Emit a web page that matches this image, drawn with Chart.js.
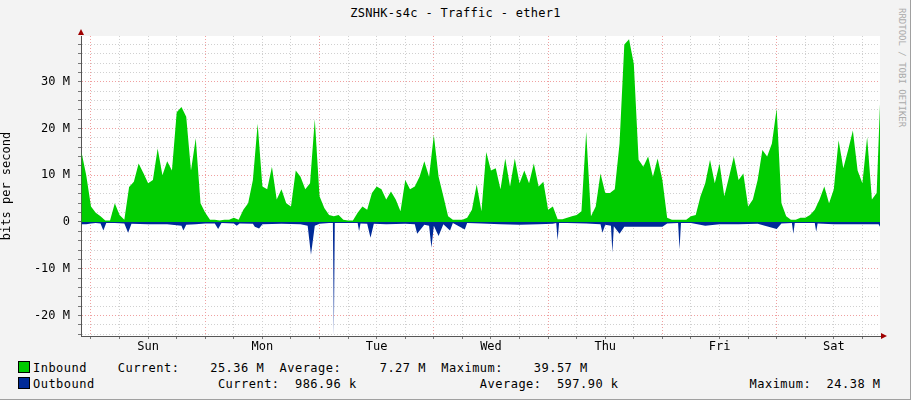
<!DOCTYPE html>
<html>
<head>
<meta charset="utf-8">
<script src="https://cdn.jsdelivr.net/npm/chart.js@4/dist/chart.umd.min.js"></script>
<style>
  body { margin: 0; background: #f3f3f3; }
  #wrap { position: relative; width: 911px; height: 400px; background: #f3f3f3;
          box-sizing: border-box; border-right: 1px solid #a0a0a0; border-bottom: 1px solid #a0a0a0;
          font-family: "DejaVu Sans Mono", monospace; font-size: 12px; color: #000; }
  #title { position: absolute; top: 6px; left: 0; width: 911px; text-align: center; letter-spacing: 0.3px; }
  #credit { position: absolute; left: 895px; top: 8px; transform-origin: 0 0; transform: rotate(90deg) translate(0, -12px);
            font-size: 9px; color: #aaa; white-space: nowrap; }
  .row { position: absolute; left: 18px; white-space: pre; letter-spacing: 0.48px; }
  .box { display: inline-block; width: 10px; height: 10px; border: 1px solid #000; vertical-align: -1px; margin-right: 3px; }
</style>
</head>
<body>
<div id="wrap">
  <div id="title">ZSNHK-s4c - Traffic - ether1</div>
  <div id="credit">RRDTOOL / TOBI OETIKER</div>
  <div style="position:absolute;left:0;top:0;width:911px;height:356px;"><canvas id="c" width="911" height="356"></canvas></div>
  <div class="row" style="top:361px"><span class="box" style="background:#00cc00"></span>Inbound    Current:    25.36 M  Average:     7.27 M  Maximum:    39.57 M</div>
  <div class="row" style="top:377px"><span class="box" style="background:#002a97"></span>Outbound                Current:  986.96 k                Average:  597.90 k                 Maximum:  24.38 M</div>
</div>
<script>
"use strict";

// hours since Sunday 00:00
const DAYS = ["Sun", "Mon", "Tue", "Wed", "Thu", "Fri", "Sat"];

const IN_START = -2;   // first hourly sample
const IN_VALUES = [
    15, 10, 3.3, 2, 1.2, 0.3, 0.3, 4, 1.5, 0.5,
    7.5, 8.6, 12.5, 10.5, 8.3, 9, 15.7, 10, 13, 11,
    23.5, 24.6, 22.5, 11, 17.9, 4, 2, 0.5, 0.5, 0.3,
    0.5, 0.5, 0.9, 0.5, 2.6, 4, 9, 21, 7.6, 7,
    11.8, 4.8, 7, 4, 3.3, 11, 9.7, 7, 8.3, 22,
    5.5, 3, 1.5, 1.2, 1.5, 0.5, 0.3, 0.3, 2, 3.3,
    2.6, 6.2, 7.6, 7, 4.8, 6.5, 4.8, 2.3, 9, 7,
    7.6, 9.7, 13, 9.7, 18.6, 9.7, 5.5, 1.2, 0.5, 0.5,
    0.5, 0.9, 2.6, 8, 2.3, 15, 11, 11.5, 7, 13.6,
    7.6, 13.6, 8.3, 11, 8.3, 12.5, 7.6, 8.6, 2.6, 3.3,
    0.6, 0.6, 0.9, 1.2, 1.5, 2.3, 19.3, 1.2, 3.3, 10.4,
    6.2, 6.2, 7, 16.8, 38, 39.1, 33.8, 13.3, 11.8, 14,
    9.7, 13.6, 9, 0.9, 0.5, 0.5, 0.5, 0.5, 1.2, 1.5,
    5.5, 8.3, 13.3, 8.3, 12.5, 5.5, 9.7, 14, 9, 10.4,
    3.3, 4.8, 9, 15.4, 14, 16.8, 24.3, 4, 1.2, 0.5,
    0.5, 0.9, 0.9, 1.5, 2.6, 4.8, 7.6, 4, 7, 17.5,
    11.5, 15.4, 19.6, 11, 8.3, 18.2, 4.8, 6.2
];
const IN_LAST = [165.7, 25.3];

const OUT_HOURS = [
    -2, -1, 0, 1, 2, 2.6, 3.2, 5, 7, 7.8, 8.5, 12, 16, 19, 19.4, 20, 22, 24, 26, 26.7,
    27.4, 30, 30.6, 31.2, 34, 34.4, 35.3, 36, 40, 44, 45.5, 46.2, 47, 48, 50, 50.8, 51, 51.2, 52, 56,
    56.3, 56.6, 58, 58.7, 59.4, 62, 66, 68, 68.5, 70, 71, 71.5, 72, 73, 74, 75.4, 76, 78.5, 79, 82,
    86, 90, 94, 97, 97.7, 98, 98.3, 100, 104, 107, 107.4, 108, 109.2, 109.5, 109.8, 111, 112, 116, 120, 121,
    123.3, 123.6, 123.9, 126, 129, 132, 136, 140, 144, 145, 147.2, 147.5, 147.8, 150, 152, 152.3, 152.6, 156, 160, 164,
    165.4, 165.7
];
const OUT_VALUES = [
    -0.5, -0.5, -0.3, -0.2, -0.3, -1.8, -0.2, -0.2, -0.3, -2.3, -0.4, -0.5, -0.5, -0.8, -1.8, -0.6, -0.5, -0.3, -0.3, -1.5,
    -0.2, -0.3, -0.8, -0.3, -0.4, -1, -1.4, -0.5, -0.4, -0.5, -0.8, -7, -0.8, -0.4, -0.2, -0.2, -24.4, -0.2, -0.2, -0.2,
    -2, -0.3, -0.4, -3.4, -0.4, -0.5, -0.4, -0.5, -2.5, -0.6, -0.8, -5.5, -0.8, -3, -0.5, -1.8, -0.2, -1.6, -0.2, -0.3,
    -0.5, -0.6, -0.5, -0.4, -0.2, -3.9, -0.2, -0.2, -0.3, -0.5, -2.3, -0.6, -0.8, -6.6, -0.9, -2.5, -1, -1, -1, -0.3,
    -0.2, -5.9, -0.2, -0.2, -0.8, -0.5, -0.5, -0.4, -1.5, -0.3, -0.2, -2.5, -0.2, -0.2, -0.2, -2.1, -0.3, -0.5, -0.5, -0.5,
    -0.5, -1
];

let inPoints = IN_VALUES.map(function (v, i) { return { x: IN_START + i, y: v }; });
inPoints.push({ x: IN_LAST[0], y: IN_LAST[1] });
let outPoints = OUT_HOURS.map(function (h, i) { return { x: h, y: OUT_VALUES[i] }; });

// white plot area + axis arrows
let plotDecor = {
    id: "plotDecor",
    beforeDraw: function (chart) {
        let a = chart.chartArea, ctx = chart.ctx;
        ctx.save();
        ctx.fillStyle = "#fff";
        ctx.fillRect(a.left, a.top, a.right - a.left, a.bottom - a.top);
        ctx.restore();
    },
    afterDraw: function (chart) {
        let a = chart.chartArea, ctx = chart.ctx;
        ctx.save();
        ctx.fillStyle = "#a00000";
        ctx.beginPath();
        ctx.moveTo(a.left - 3, a.top - 1); ctx.lineTo(a.left + 3, a.top - 1); ctx.lineTo(a.left, a.top - 7);
        ctx.fill();
        ctx.beginPath();
        ctx.moveTo(a.right + 1, a.bottom - 3); ctx.lineTo(a.right + 1, a.bottom + 3); ctx.lineTo(a.right + 7, a.bottom);
        ctx.fill();
        ctx.restore();
    }
};

new Chart(document.getElementById("c"), {
    type: "line",
    data: {
        datasets: [
            { label: "Inbound", data: inPoints, borderWidth: 0, pointRadius: 0, tension: 0,
              backgroundColor: "#00cc00", borderColor: "#00cc00", fill: "origin" },
            { label: "Outbound", data: outPoints, borderWidth: 0, pointRadius: 0, tension: 0,
              backgroundColor: "#002a97", borderColor: "#002a97", fill: "origin" }
        ]
    },
    options: {
        responsive: false,
        animation: false,
        layout: { padding: { top: 36, right: 31, left: 0, bottom: 0 } },
        plugins: { legend: { display: false }, tooltip: { enabled: false } },
        scales: {
            x: {
                type: "linear", min: -2.1, max: 165.7,
                afterBuildTicks: function (s) {
                    let t = [];
                    for (let h = 0; h <= 162; h += 6) t.push({ value: h });
                    s.ticks = t;
                },
                afterFit: function (s) { s.height = 20; },
                ticks: {
                    autoSkip: false, maxRotation: 0, padding: 1,
                    font: { family: "DejaVu Sans Mono", size: 12 }, color: "#000",
                    callback: function (v) { return v % 24 === 12 ? DAYS[Math.floor(v / 24)] : ""; }
                },
                grid: {
                    color: function (c) { return c.tick && c.tick.value % 24 === 0 ? "#f0a0a0" : "#d0d0d0"; },
                    drawTicks: true, tickLength: 3, tickColor: "#777"
                },
                border: { color: "#555", dash: [1, 2] }
            },
            y: {
                min: -24.4, max: 39.8,
                afterBuildTicks: function (s) {
                    let t = [];
                    for (let v = -24; v <= 38; v += 2) t.push({ value: v });
                    s.ticks = t;
                },
                afterFit: function (s) { s.width = 81; },
                ticks: {
                    autoSkip: false, padding: 8,
                    font: { family: "DejaVu Sans Mono", size: 12 }, color: "#000",
                    callback: function (v) { return v % 10 === 0 ? (v === 0 ? "0" : v + " M") : ""; }
                },
                title: { display: true, text: "bits per second", color: "#000", padding: 0,
                         font: { family: "DejaVu Sans Mono", size: 12 } },
                grid: {
                    color: function (c) { return c.tick && c.tick.value % 10 === 0 ? "#f0a0a0" : "#d0d0d0"; },
                    tickLength: 3, tickColor: "#777"
                },
                border: { color: "#555", dash: [1, 2] }
            }
        }
    },
    plugins: [plotDecor]
});
</script>
</body>
</html>
